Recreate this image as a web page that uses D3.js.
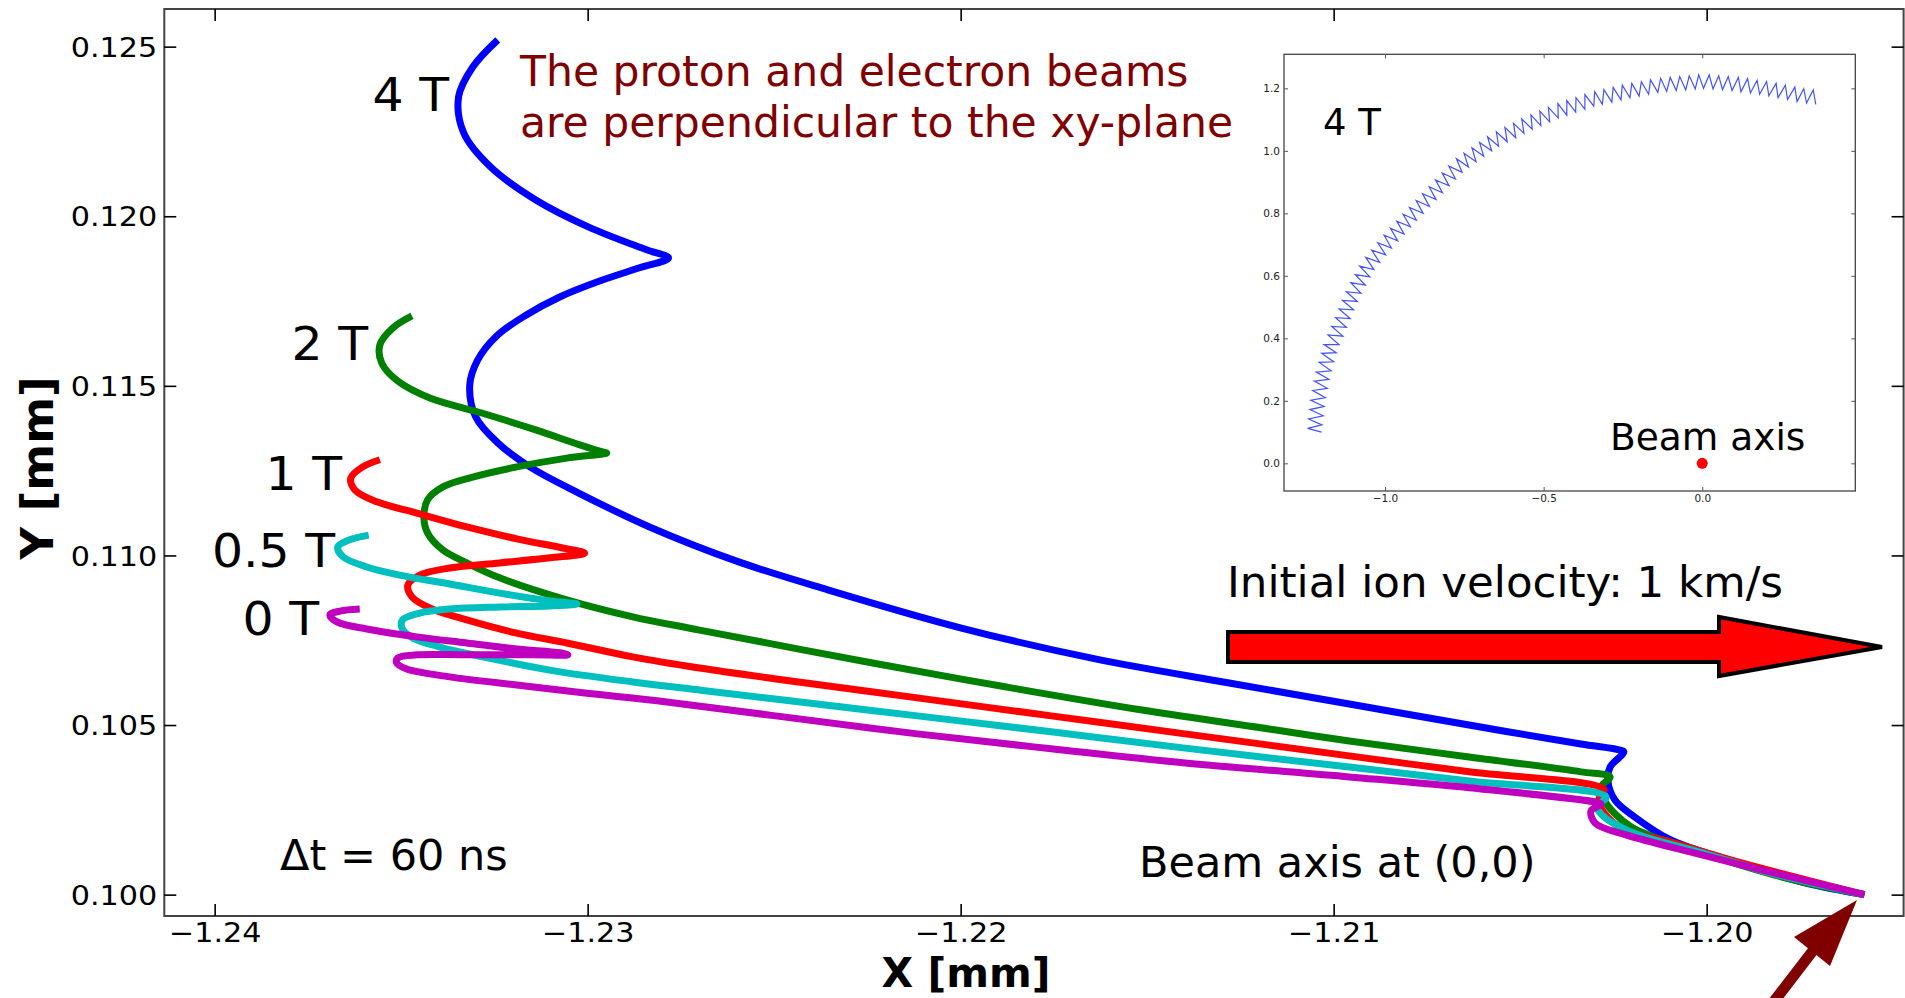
<!DOCTYPE html>
<html>
<head>
<meta charset="utf-8">
<script src="https://cdnjs.cloudflare.com/ajax/libs/d3/7.8.5/d3.min.js"></script>
<style>
  body { margin: 0; background: #fff; }
  svg { display: block; font-family: 'DejaVu Sans', sans-serif; }
</style>
</head>
<body>
<svg id="chart" width="1905" height="998"></svg>
<script>
'use strict';

// Ion tracks in the xy-plane, one per field strength (x, y in mm)
const fieldLabels = ['4 T', '2 T', '1 T', '0.5 T', '0 T'];

const track4T = [
  [-1.23241, 0.12520], [-1.23308, 0.12440], [-1.23346, 0.12352], [-1.23332, 0.12245],
  [-1.23260, 0.12145], [-1.23139, 0.12048], [-1.22997, 0.11968], [-1.22842, 0.11901],
  [-1.22783, 0.11877], [-1.22861, 0.11848], [-1.22968, 0.11809], [-1.23075, 0.11762],
  [-1.23169, 0.11706], [-1.23244, 0.11647], [-1.23295, 0.11576], [-1.23316, 0.11503],
  [-1.23300, 0.11408], [-1.23241, 0.11332], [-1.23155, 0.11261], [-1.23024, 0.11184],
  [-1.22834, 0.11084], [-1.22595, 0.10981], [-1.22354, 0.10898], [-1.21998, 0.10786],
  [-1.21639, 0.10695], [-1.21280, 0.10624], [-1.20958, 0.10562], [-1.20637, 0.10500],
  [-1.20337, 0.10444], [-1.20241, 0.10428], [-1.20222, 0.10421], [-1.20259, 0.10376],
  [-1.20265, 0.10338], [-1.20246, 0.10279], [-1.20193, 0.10229], [-1.20096, 0.10161],
  [-1.19914, 0.10093], [-1.19734, 0.10034], [-1.19577, 0.10000]
];

const track2T = [
  [-1.23471, 0.11706], [-1.23522, 0.11671], [-1.23557, 0.11621], [-1.23552, 0.11567],
  [-1.23509, 0.11514], [-1.23423, 0.11464], [-1.23284, 0.11420], [-1.23139, 0.11370],
  [-1.23021, 0.11326], [-1.22960, 0.11305], [-1.22949, 0.11302], [-1.23056, 0.11287],
  [-1.23190, 0.11261], [-1.23308, 0.11231], [-1.23388, 0.11202], [-1.23429, 0.11164],
  [-1.23439, 0.11113], [-1.23429, 0.11066], [-1.23388, 0.11016], [-1.23324, 0.10978],
  [-1.23236, 0.10934], [-1.23056, 0.10869], [-1.22879, 0.10819], [-1.22700, 0.10780],
  [-1.22236, 0.10683], [-1.21877, 0.10612], [-1.21518, 0.10545],
  [-1.21159, 0.10486], [-1.20958, 0.10453], [-1.20637, 0.10406], [-1.20337, 0.10362],
  [-1.20259, 0.10347], [-1.20283, 0.10318], [-1.20275, 0.10279], [-1.20203, 0.10200],
  [-1.20034, 0.10132], [-1.19798, 0.10052], [-1.19577, 0.10000]
];

const track1T = [
  [-1.23557, 0.11282], [-1.23603, 0.11261], [-1.23635, 0.11228], [-1.23624, 0.11193],
  [-1.23565, 0.11158], [-1.23458, 0.11125], [-1.23324, 0.11084], [-1.23190, 0.11049],
  [-1.23067, 0.11022], [-1.23008, 0.11007], [-1.23102, 0.10993], [-1.23236, 0.10978],
  [-1.23370, 0.10963], [-1.23450, 0.10942], [-1.23482, 0.10913], [-1.23471, 0.10878],
  [-1.23423, 0.10845], [-1.23324, 0.10810], [-1.23190, 0.10771], [-1.23056, 0.10742],
  [-1.22879, 0.10701], [-1.22700, 0.10668], [-1.22475, 0.10633], [-1.22116, 0.10580],
  [-1.21757, 0.10527], [-1.21398, 0.10474], [-1.20958, 0.10409], [-1.20637, 0.10362],
  [-1.20275, 0.10309], [-1.20289, 0.10282], [-1.20275, 0.10241], [-1.20221, 0.10191],
  [-1.20096, 0.10155], [-1.19914, 0.10096], [-1.19577, 0.10000]
];

const track05T = [
  [-1.23587, 0.11060], [-1.23638, 0.11046], [-1.23670, 0.11025], [-1.23656, 0.10996],
  [-1.23592, 0.10966], [-1.23504, 0.10942], [-1.23370, 0.10916], [-1.23236, 0.10889],
  [-1.23102, 0.10866], [-1.23029, 0.10857], [-1.23102, 0.10851], [-1.23236, 0.10848],
  [-1.23370, 0.10842], [-1.23450, 0.10830], [-1.23496, 0.10810], [-1.23498, 0.10786],
  [-1.23469, 0.10757], [-1.23396, 0.10730], [-1.23281, 0.10701], [-1.23102, 0.10662],
  [-1.22879, 0.10627], [-1.22700, 0.10603], [-1.22475, 0.10574], [-1.22116, 0.10527],
  [-1.21757, 0.10480], [-1.21398, 0.10432], [-1.20958, 0.10376], [-1.20637, 0.10335],
  [-1.20270, 0.10288], [-1.20294, 0.10259], [-1.20275, 0.10229], [-1.20203, 0.10185],
  [-1.20021, 0.10126], [-1.19798, 0.10055], [-1.19577, 0.10000]
];

const track0T = [
  [-1.23611, 0.10842], [-1.23664, 0.10836], [-1.23691, 0.10825], [-1.23672, 0.10804],
  [-1.23592, 0.10783], [-1.23458, 0.10760], [-1.23324, 0.10742], [-1.23190, 0.10724],
  [-1.23075, 0.10713], [-1.23053, 0.10707], [-1.23147, 0.10707], [-1.23324, 0.10707],
  [-1.23458, 0.10707], [-1.23509, 0.10698], [-1.23512, 0.10683], [-1.23485, 0.10665],
  [-1.23370, 0.10642], [-1.23190, 0.10618], [-1.23013, 0.10595], [-1.22788, 0.10568],
  [-1.22475, 0.10524], [-1.22116, 0.10474], [-1.21757, 0.10430], [-1.21398, 0.10388],
  [-1.20958, 0.10347], [-1.20637, 0.10315], [-1.20299, 0.10273], [-1.20283, 0.10267],
  [-1.20310, 0.10247], [-1.20299, 0.10211], [-1.20216, 0.10176], [-1.20034, 0.10123],
  [-1.19798, 0.10058], [-1.19577, 0.10000]
];

const xTicks = [-1.24, -1.23, -1.22, -1.21, -1.20];
const yTicks = [0.100, 0.105, 0.110, 0.115, 0.120, 0.125];

// Inset: long 4 T trajectory around the beam axis
const insetXTicks = [-1.0, -0.5, 0.0];
const insetYTicks = [0.0, 0.2, 0.4, 0.6, 0.8, 1.0, 1.2];
const beamAxis = [0, 0];
const insetTrack4T = [
  [-1.200, 0.100],
  [-1.244, 0.112], [-1.199, 0.123], [-1.241, 0.142], [-1.195, 0.152], [-1.237, 0.172], [-1.192, 0.182], [-1.234, 0.202],
  [-1.188, 0.210], [-1.228, 0.233], [-1.182, 0.240], [-1.223, 0.263], [-1.177, 0.269], [-1.217, 0.292],
  [-1.170, 0.296], [-1.208, 0.323], [-1.162, 0.325], [-1.200, 0.352], [-1.154, 0.354], [-1.192, 0.380],
  [-1.145, 0.380], [-1.180, 0.411], [-1.133, 0.407], [-1.168, 0.438], [-1.122, 0.435], [-1.156, 0.466],
  [-1.110, 0.463], [-1.145, 0.494], [-1.099, 0.491], [-1.134, 0.521], [-1.087, 0.518], [-1.122, 0.549],
  [-1.076, 0.544], [-1.108, 0.578], [-1.062, 0.570], [-1.094, 0.604], [-1.048, 0.597], [-1.080, 0.631],
  [-1.035, 0.620], [-1.061, 0.659], [-1.017, 0.643], [-1.042, 0.682], [-0.998, 0.667], [-1.023, 0.706],
  [-0.980, 0.689], [-1.003, 0.730], [-0.960, 0.712], [-0.983, 0.752], [-0.940, 0.734], [-0.963, 0.775],
  [-0.920, 0.757], [-0.943, 0.797],
  [-0.901, 0.778], [-0.923, 0.819], [-0.880, 0.800], [-0.902, 0.841], [-0.860, 0.822], [-0.882, 0.863],
  [-0.839, 0.844], [-0.861, 0.885], [-0.819, 0.866], [-0.841, 0.907], [-0.798, 0.888], [-0.820, 0.929],
  [-0.778, 0.910], [-0.799, 0.951], [-0.757, 0.931],
  [-0.775, 0.975], [-0.737, 0.948], [-0.751, 0.992], [-0.713, 0.965], [-0.726, 1.010], [-0.689, 0.983],
  [-0.702, 1.027], [-0.664, 1.000], [-0.677, 1.045],
  [-0.642, 1.015], [-0.649, 1.061], [-0.615, 1.029], [-0.622, 1.075], [-0.588, 1.042], [-0.595, 1.088],
  [-0.562, 1.056], [-0.569, 1.102],
  [-0.536, 1.069], [-0.540, 1.115], [-0.509, 1.081], [-0.512, 1.127], [-0.481, 1.093], [-0.485, 1.139],
  [-0.454, 1.105],
  [-0.455, 1.151], [-0.427, 1.114], [-0.427, 1.161], [-0.399, 1.124], [-0.398, 1.170], [-0.370, 1.133],
  [-0.370, 1.180], [-0.342, 1.143],
  [-0.339, 1.189], [-0.315, 1.149], [-0.310, 1.196], [-0.285, 1.156], [-0.281, 1.203], [-0.256, 1.163],
  [-0.252, 1.210],
  [-0.228, 1.170], [-0.222, 1.216], [-0.199, 1.175], [-0.192, 1.221], [-0.169, 1.181], [-0.163, 1.227],
  [-0.140, 1.187],
  [-0.131, 1.232], [-0.112, 1.190], [-0.101, 1.235], [-0.082, 1.193], [-0.071, 1.238], [-0.052, 1.195],
  [-0.041, 1.240], [-0.022, 1.198], [-0.011, 1.243],
  [0.004, 1.200], [0.022, 1.243], [0.034, 1.198], [0.052, 1.240], [0.064, 1.196], [0.082, 1.238],
  [0.094, 1.193],
  [0.114, 1.235], [0.122, 1.189], [0.143, 1.231], [0.152, 1.185], [0.173, 1.226], [0.181, 1.181],
  [0.203, 1.222],
  [0.210, 1.176], [0.233, 1.216], [0.239, 1.170], [0.262, 1.210], [0.269, 1.164], [0.292, 1.204],
  [0.299, 1.158], [0.320, 1.199], [0.329, 1.153], [0.350, 1.195], [0.358, 1.149]
];

const tracks = [track4T, track2T, track1T, track05T, track0T];
const trackColors = ['#0000ff', '#008000', '#ff0000', '#00bfbf', '#bf00bf'];
const labelPos = [[449, 111], [368, 360], [342, 490], [335, 567], [319, 635]];

const svg = d3.select('#chart');
const box = { left: 164.3, right: 1903.6, top: 9, bottom: 916 };

const x = d3.scaleLinear().domain([-1.24135, -1.19472]).range([box.left, box.right]);
const y = d3.scaleLinear().domain([0.09937, 0.12611]).range([box.bottom, box.top]);

// Frame
svg.append('rect')
  .attr('x', box.left).attr('y', box.top)
  .attr('width', box.right - box.left).attr('height', box.bottom - box.top)
  .attr('fill', 'none').attr('stroke', '#444').attr('stroke-width', 2);

// Axes, ticks pointing inwards on all four sides
const stretch = 'scale(1.12,1)';

function styleAxis(g) {
  g.attr('font-family', null).attr('font-size', null);
  g.select('.domain').remove();
  g.selectAll('.tick line').attr('stroke', '#000').attr('stroke-width', 1.6);
}

svg.append('g')
  .attr('transform', `translate(0,${box.bottom})`)
  .call(d3.axisBottom(x).tickValues(xTicks).tickFormat(d3.format('.2f')).tickSizeInner(-12).tickSizeOuter(0))
  .call(styleAxis)
  .selectAll('.tick text')
  .attr('y', 26).attr('dy', 0)
  .attr('transform', stretch)
  .attr('fill', '#000')
  .style('font-size', '27px');

svg.append('g')
  .attr('transform', `translate(0,${box.top})`)
  .call(d3.axisTop(x).tickValues(xTicks).tickFormat('').tickSizeInner(-12).tickSizeOuter(0))
  .call(styleAxis);

svg.append('g')
  .attr('transform', `translate(${box.left},0)`)
  .call(d3.axisLeft(y).tickValues(yTicks).tickFormat(d3.format('.3f')).tickSizeInner(-12).tickSizeOuter(0))
  .call(styleAxis)
  .selectAll('.tick text')
  .attr('x', -7 / 1.12).attr('dy', '0.36em')
  .attr('transform', stretch)
  .attr('fill', '#000')
  .style('font-size', '27px');

svg.append('g')
  .attr('transform', `translate(${box.right},0)`)
  .call(d3.axisRight(y).tickValues(yTicks).tickFormat('').tickSizeInner(-12).tickSizeOuter(0))
  .call(styleAxis);

// Axis titles
svg.append('text')
  .attr('x', 966).attr('y', 987)
  .attr('text-anchor', 'middle')
  .style('font-size', '41px').style('font-weight', 'bold')
  .text('X [mm]');

svg.append('text')
  .attr('transform', 'translate(53,468) rotate(-90)')
  .attr('text-anchor', 'middle')
  .style('font-size', '45px').style('font-weight', 'bold')
  .text('Y [mm]');

// Trajectories
const line = d3.line()
  .x(d => x(d[0]))
  .y(d => y(d[1]))
  .curve(d3.curveCatmullRom.alpha(0.5));

svg.append('g')
  .selectAll('path')
  .data(tracks)
  .join('path')
  .attr('d', line)
  .attr('fill', 'none')
  .attr('stroke', (d, i) => trackColors[i])
  .attr('stroke-width', 7)
  .attr('stroke-linejoin', 'round');

svg.append('g')
  .selectAll('text')
  .data(fieldLabels)
  .join('text')
  .attr('transform', (d, i) => `translate(${labelPos[i][0]},${labelPos[i][1]}) scale(1.04,1)`)
  .attr('text-anchor', 'end')
  .style('font-size', '47px')
  .text(d => d);

// Annotations
svg.append('text')
  .attr('x', 520).attr('y', 86)
  .attr('fill', '#800000').style('font-size', '42.5px')
  .text('The proton and electron beams');
svg.append('text')
  .attr('x', 520).attr('y', 137)
  .attr('fill', '#800000').style('font-size', '42.5px')
  .text('are perpendicular to the xy-plane');

svg.append('text')
  .attr('x', 280).attr('y', 870)
  .style('font-size', '43px')
  .text('\u0394t = 60 ns');

svg.append('text')
  .attr('x', 1139).attr('y', 877)
  .style('font-size', '43px')
  .text('Beam axis at (0,0)');

svg.append('text')
  .attr('x', 1227).attr('y', 597)
  .style('font-size', '43.5px')
  .text('Initial ion velocity: 1 km/s');

// Velocity arrow
svg.append('path')
  .attr('d', 'M1228,632 L1719,632 L1719,617 L1882,647 L1719,676 L1719,662 L1228,662 Z')
  .attr('fill', '#ff0000')
  .attr('stroke', '#000')
  .attr('stroke-width', 4)
  .attr('stroke-linejoin', 'miter');

// Pointer to the start of the tracks
svg.append('line')
  .attr('x1', 1815).attr('y1', 948)
  .attr('x2', 1772).attr('y2', 1004)
  .attr('stroke', '#800000').attr('stroke-width', 11);
svg.append('path')
  .attr('d', 'M1857,900 L1794,937 L1830,966 Z')
  .attr('fill', '#800000');

// Inset
const inset = { left: 1284, right: 1855.3, top: 54.3, bottom: 491 };
const ix = d3.scaleLinear().domain([-1.3186, 0.4826]).range([inset.left, inset.right]);
const iy = d3.scaleLinear().domain([-0.0886, 1.309]).range([inset.bottom, inset.top]);

svg.append('rect')
  .attr('x', inset.left).attr('y', inset.top)
  .attr('width', inset.right - inset.left).attr('height', inset.bottom - inset.top)
  .attr('fill', '#fff').attr('stroke', '#444').attr('stroke-width', 1.3);

function styleInset(g) {
  g.attr('font-family', null).attr('font-size', null);
  g.select('.domain').remove();
  g.selectAll('.tick line').attr('stroke', '#555').attr('stroke-width', 1);
  g.selectAll('.tick text').attr('fill', '#222').style('font-size', '10.5px');
}

svg.append('g')
  .attr('transform', `translate(0,${inset.bottom})`)
  .call(d3.axisBottom(ix).tickValues(insetXTicks).tickFormat(d3.format('.1f')).tickSizeInner(-4).tickSizeOuter(0).tickPadding(4))
  .call(styleInset);
svg.append('g')
  .attr('transform', `translate(0,${inset.top})`)
  .call(d3.axisTop(ix).tickValues(insetXTicks).tickFormat('').tickSizeInner(-4).tickSizeOuter(0))
  .call(styleInset);
svg.append('g')
  .attr('transform', `translate(${inset.left},0)`)
  .call(d3.axisLeft(iy).tickValues(insetYTicks).tickFormat(d3.format('.1f')).tickSizeInner(-4).tickSizeOuter(0).tickPadding(4))
  .call(styleInset);
svg.append('g')
  .attr('transform', `translate(${inset.right},0)`)
  .call(d3.axisRight(iy).tickValues(insetYTicks).tickFormat('').tickSizeInner(-4).tickSizeOuter(0))
  .call(styleInset);

svg.append('path')
  .datum(insetTrack4T)
  .attr('d', d3.line().x(d => ix(d[0])).y(d => iy(d[1])))
  .attr('fill', 'none')
  .attr('stroke', '#2233ff')
  .attr('stroke-width', 1.2)
  .attr('stroke-opacity', 0.85);

svg.append('circle')
  .attr('cx', ix(beamAxis[0])).attr('cy', iy(beamAxis[1]))
  .attr('r', 5.5)
  .attr('fill', '#ff0000');

svg.append('text')
  .attr('x', 1323).attr('y', 135)
  .style('font-size', '37px')
  .text('4 T');
svg.append('text')
  .attr('x', 1610).attr('y', 450)
  .style('font-size', '37.5px')
  .text('Beam axis');
</script>
</body>
</html>
